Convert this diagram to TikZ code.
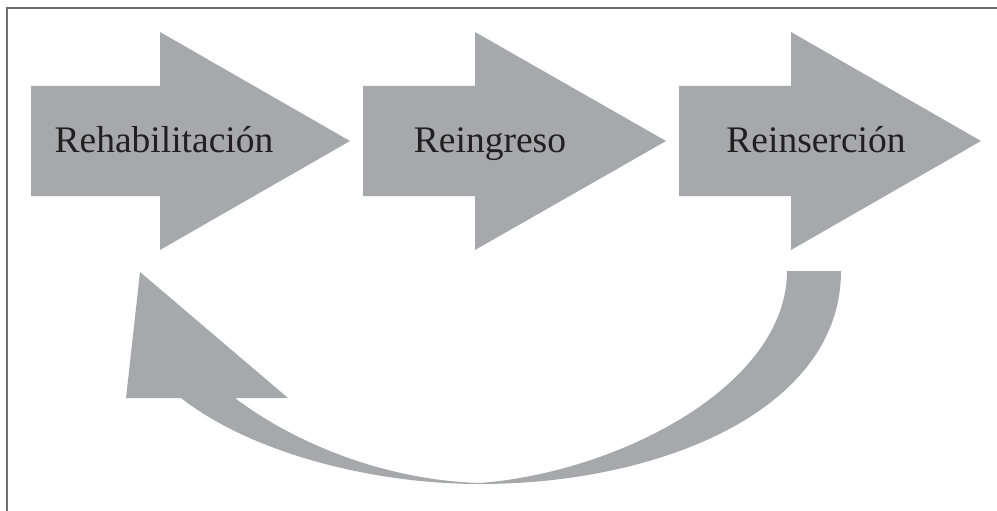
\documentclass[tikz,border=0pt]{standalone}
\usepackage{fontspec}
\setmainfont{Liberation Serif}
\definecolor{arrowgray}{HTML}{A7A8AB}
\definecolor{framegray}{HTML}{6E6E6E}
\definecolor{textdark}{HTML}{231F20}
\begin{document}
\begin{tikzpicture}[x=1pt,y=-1pt,
  shapefill/.style={fill=arrowgray,draw=none},
  label/.style={anchor=base,inner sep=0pt,text=textdark,font=\fontsize{37.5}{45}\selectfont},
  frame/.style={draw=framegray,line width=2pt}]
\useasboundingbox (0,0) rectangle (997,511);
% frame
\draw[frame] (6.5,512) -- (6.5,8) -- (998,8);
% straight arrows
\fill[shapefill] (31,86) -- (160,86) -- (160,32) -- (350,141) -- (160,250) -- (160,196) -- (31,196) -- cycle;
\fill[shapefill] (363,86) -- (475,86) -- (475,32) -- (666,141) -- (475,250) -- (475,196) -- (363,196) -- cycle;
\fill[shapefill] (679,86) -- (791,86) -- (791,32) -- (981,141) -- (791,250) -- (791,196) -- (679,196) -- cycle;
% curved return arrow
\fill[shapefill] (787,271) -- (841,271)
  .. controls (841,410) and (660,484) .. (480,484)
  .. controls (370,484) and (250,452) .. (181,398)
  -- (126,398) -- (140,272) -- (288,398) -- (235,398)
  .. controls (290,440) and (380,480) .. (480,483)
  .. controls (620,472) and (787,385) .. (787,271) -- cycle;
% labels
\node[label] (reh) at (164,153) {Rehabilitación};
\node[label] (ring) at (490,153) {Reingreso};
\node[label] (rins) at (816,153) {Reinserción};
\end{tikzpicture}
\end{document}
